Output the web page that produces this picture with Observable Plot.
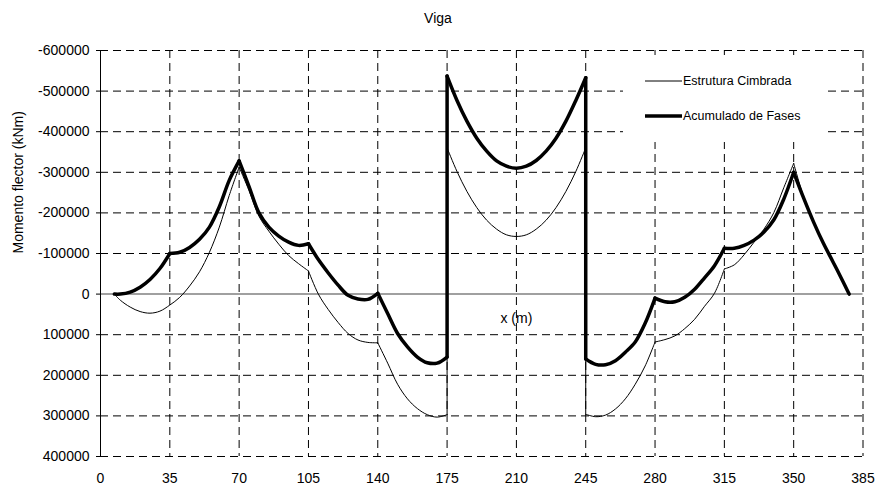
<!DOCTYPE html>
<html><head><meta charset="utf-8">
<script src="https://cdn.jsdelivr.net/npm/d3@7"></script>
<script src="https://cdn.jsdelivr.net/npm/@observablehq/plot@0.6"></script>
<style>
body{margin:0;background:#fff;font-family:"Liberation Sans",Arial,sans-serif;}
#wrap{position:relative;width:876px;height:485px;overflow:hidden;}
#title{height:36px;box-sizing:border-box;padding-top:11px;line-height:14px;text-align:center;font-size:14px;color:#000;}
#legend{position:absolute;left:623px;top:55px;width:200px;height:87px;background:#fff;}
#legend span{position:absolute;left:60px;font-size:12.5px;line-height:14px;white-space:nowrap;color:#000;}
</style></head><body>
<div id="wrap"><div id="title">Viga</div><div id="chart"></div><div id="legend"></div></div>
<script>
// Positions along the beam (m)
const xPos = [7,10,15,20,25,30,35,40,45,50,55,60,65,70,75,80,85,90,95,100,105,110,115,120,125,130,135,140,145,150,155,160,165,170,175,
  175,180,185,190,195,200,205,210,215,220,225,230,235,240,245,
  245,250,255,260,265,270,275,280,285,290,295,300,305,310,315,320,325,330,335,340,345,350,355,360,365,370,375,378];
// Momento flector (kNm) – Estrutura Cimbrada (thin)
const estruturaCimbrada = [0,15000,32000,43000,47000,42000,27000,8000,-20000,-55000,-103000,-165000,-243000,-313000,-255000,-192000,-155000,-123000,-95000,-75000,-57000,0,38000,70000,97000,113000,119000,120000,170000,222000,258000,282000,297000,303000,297000,
  -360000,-302000,-253000,-213000,-182000,-160000,-146000,-142000,-146000,-160000,-182000,-213000,-253000,-302000,-360000,
  296000,302000,298000,283000,258000,222000,177000,118000,112000,103000,85000,62000,30000,-2000,-62000,-72000,-97000,-128000,-160000,-201000,-262000,-322000,-240000,-180000,-125000,-78000,-30000,0];
// Momento flector (kNm) – Acumulado de Fases (thick)
const acumuladoFases = [0,0,-5000,-17000,-36000,-63000,-100000,-103000,-115000,-135000,-165000,-215000,-280000,-328000,-265000,-200000,-165000,-143000,-128000,-120000,-124000,-85000,-52000,-22000,3000,12000,13000,-2000,48000,97000,130000,155000,169000,170000,155000,
  -537000,-477000,-426000,-384000,-352000,-328000,-315000,-310000,-315000,-329000,-352000,-384000,-426000,-477000,-533000,
  160000,173000,174000,164000,143000,118000,72000,10000,19000,19000,8000,-12000,-40000,-70000,-113000,-113000,-120000,-133000,-153000,-183000,-234000,-300000,-237000,-178000,-125000,-78000,-30000,0];
// Positions where each curve has a sharp corner (supports / anchorages)
const kinksCimbrada = [70,105,140,280,315,350];
const kinksFases = [35,70,105,140,280,315,350];
const seriesNames = ["Estrutura Cimbrada", "Acumulado de Fases"];
const xTicks = [0,35,70,105,140,175,210,245,280,315,350,385];
const yTicks = [-600000,-500000,-400000,-300000,-200000,-100000,0,100000,200000,300000,400000];
const titleText = "Viga";
const yLabel = "Momento flector (kNm)";
const xLabel = "x (m)";
const xLabelAt = {x: 210, y: 60000};

// split a series into smooth pieces (broken at corners and at vertical jumps)
function pieces(xs, ys, kinks) {
  const out = [];
  let seg = 0;
  for (let i = 0; i < xs.length; i++) {
    if (i > 0 && xs[i] === xs[i - 1]) seg++;
    out.push({x: xs[i], y: ys[i], seg});
    const jumpNext = i + 1 < xs.length && xs[i + 1] === xs[i];
    if (kinks.includes(xs[i]) && !jumpNext && i > 0) { seg++; out.push({x: xs[i], y: ys[i], seg}); }
  }
  return out;
}
function jumps(xs, ys) {
  const out = [];
  for (let i = 1; i < xs.length; i++) if (xs[i] === xs[i - 1]) out.push({x: xs[i], y1: ys[i - 1], y2: ys[i]});
  return out;
}
const thin = pieces(xPos, estruturaCimbrada, kinksCimbrada);
const thick = pieces(xPos, acumuladoFases, kinksFases);
const thinJ = jumps(xPos, estruturaCimbrada);
const thickJ = jumps(xPos, acumuladoFases);
const font = '"Liberation Sans", Arial, sans-serif';
const dash = "8,5";

const chart = Plot.plot({
  width: 876, height: 449,
  marginTop: 14, marginBottom: 29, marginLeft: 100, marginRight: 13.5,
  style: {fontFamily: font, fontSize: "14px", color: "#000", background: "#fff"},
  x: {domain: [0, 385], label: null},
  y: {domain: [-600000, 400000], reverse: true, label: null},
  marks: [
    Plot.gridX(xTicks.filter(d => d > 0), {stroke: "#000", strokeOpacity: 1, strokeDasharray: dash}),
    Plot.gridY(yTicks.filter(d => d !== 0), {stroke: "#000", strokeOpacity: 1, strokeDasharray: dash}),
    Plot.ruleY([0], {stroke: "#808080", strokeWidth: 1.5}),
    Plot.ruleX([0], {stroke: "#000", strokeWidth: 1}),
    Plot.axisY(yTicks, {tickSize: 4, tickPadding: 7, tickFormat: d => String(d), label: null, fontSize: 14, stroke: "#000"}),
    Plot.axisX(xTicks, {tickSize: 0, tickPadding: 17, tickFormat: d => String(d), label: null, fontSize: 14}),
    Plot.text([xLabel], {x: () => xLabelAt.x, y: () => xLabelAt.y, text: d => d, fontSize: 14, fill: "#000"}),
    Plot.line(thin, {x: "x", y: "y", z: "seg", curve: "catmull-rom", stroke: "#000", strokeWidth: 1}),
    Plot.link(thinJ, {x1: "x", x2: "x", y1: "y1", y2: "y2", stroke: "#000", strokeWidth: 1}),
    Plot.line(thick, {x: "x", y: "y", z: "seg", curve: "catmull-rom", stroke: "#000", strokeWidth: 3.5}),
    Plot.link(thickJ, {x1: "x", x2: "x", y1: "y1", y2: "y2", stroke: "#000", strokeWidth: 3.5, strokeLinecap: "round"}),
    Plot.text([yLabel], {frameAnchor: "left", dx: -82, rotate: -90, text: d => d, fontSize: 14, fill: "#000"})
  ]
});
document.getElementById("chart").appendChild(chart);
document.getElementById("title").textContent = titleText;

const leg = d3.select("#legend");
const lsvg = leg.append("svg").attr("width", 200).attr("height", 87).style("position", "absolute").style("left", 0).style("top", 0);
const rowsY = [26, 61];
const widths = [1, 3.5];
seriesNames.forEach((name, i) => {
  lsvg.append("line").attr("x1", 22).attr("x2", 59).attr("y1", rowsY[i]).attr("y2", rowsY[i])
    .attr("stroke", "#000").attr("stroke-width", widths[i]);
  leg.append("span").style("top", (rowsY[i] - 7) + "px").text(name);
});
</script>
</body></html>
